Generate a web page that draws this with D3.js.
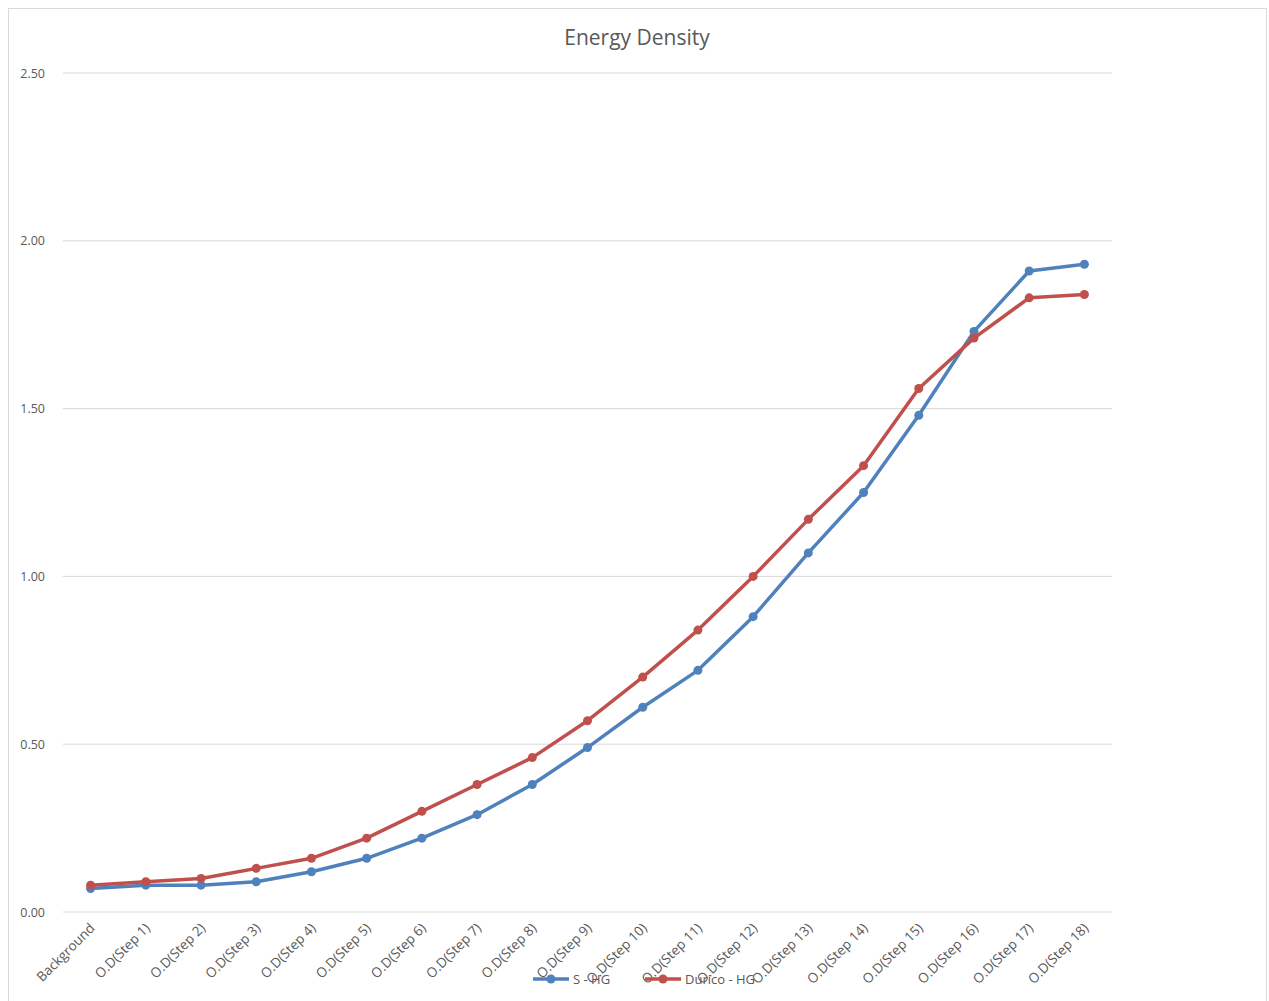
<!DOCTYPE html>
<html>
<head>
<meta charset="utf-8">
<script src="https://cdn.jsdelivr.net/npm/d3@7"></script>
<style>
  body { margin: 0; background: #fff; }
  text { font-family: "Open Sans", "Noto Sans", sans-serif; fill: #595959; }
</style>
</head>
<body>
<div class="chart"></div>
<script>
const categories = ["Background", "O.D(Step 1)", "O.D(Step 2)", "O.D(Step 3)", "O.D(Step 4)",
    "O.D(Step 5)", "O.D(Step 6)", "O.D(Step 7)", "O.D(Step 8)", "O.D(Step 9)", "O.D(Step 10)",
    "O.D(Step 11)", "O.D(Step 12)", "O.D(Step 13)", "O.D(Step 14)", "O.D(Step 15)",
    "O.D(Step 16)", "O.D(Step 17)", "O.D(Step 18)"];
const sHG = [0.07, 0.08, 0.08, 0.09, 0.12, 0.16, 0.22, 0.29, 0.38, 0.49, 0.61,
    0.72, 0.88, 1.07, 1.25, 1.48, 1.73, 1.91, 1.93];
const duricoHG = [0.08, 0.09, 0.10, 0.13, 0.16, 0.22, 0.30, 0.38, 0.46, 0.57, 0.70,
    0.84, 1.00, 1.17, 1.33, 1.56, 1.71, 1.83, 1.84];
const yTicks = [0, 0.5, 1.0, 1.5, 2.0, 2.5];
const seriesNames = ["S - HG", "Durico - HG"];
const seriesColors = ["#4F81BD", "#C0504D"];

const w = 1269;
const h = 1001;
const plotLeft = 63, plotRight = 1112, plotTop = 73, plotBottom = 912;

const svg = d3.select(".chart").append("svg")
    .attr("width", w)
    .attr("height", h);

// frame
svg.append("rect")
    .attr("x", 8.5).attr("y", 8.5)
    .attr("width", 1258).attr("height", 1010)
    .attr("fill", "none")
    .attr("stroke", "#d9d9d9");

const xScale = d3.scaleBand()
    .domain(categories)
    .range([plotLeft, plotRight]);

const yScale = d3.scaleLinear()
    .domain([0, 2.5])
    .range([plotBottom, plotTop]);

// gridlines
svg.append("g")
    .selectAll("line")
    .data(yTicks)
    .enter()
    .append("line")
    .attr("x1", plotLeft).attr("x2", plotRight)
    .attr("y1", d => yScale(d)).attr("y2", d => yScale(d))
    .attr("stroke", "#d9d9d9")
    .attr("stroke-width", 1);

const yAxis = svg.append("g")
    .attr("transform", "translate(" + (plotLeft - 18) + ",0)")
    .call(d3.axisLeft(yScale).tickValues(yTicks).tickFormat(d3.format(".2f")).tickSize(0).tickPadding(0));
yAxis.select(".domain").remove();
yAxis.selectAll("text").attr("font-size", "12.5px").style("fill", "#595959");

const xAxis = svg.append("g")
    .attr("transform", "translate(0," + plotBottom + ")")
    .call(d3.axisBottom(xScale).tickSize(0).tickPadding(0));
xAxis.select(".domain").remove();
xAxis.selectAll("text")
    .attr("font-size", "13.5px")
    .style("fill", "#595959")
    .attr("text-anchor", "end")
    .attr("dy", 0)
    .attr("transform", "translate(5,17) rotate(-45)");

// title
svg.append("text")
    .attr("x", 637).attr("y", 45)
    .attr("text-anchor", "middle")
    .attr("font-size", "21px")
    .text("Energy Density");

const line = d3.line()
    .x((d, i) => xScale(categories[i]) + xScale.bandwidth() / 2)
    .y(d => yScale(d));

[sHG, duricoHG].forEach((vals, k) => {
    const g = svg.append("g");
    g.append("path")
        .datum(vals)
        .attr("d", line)
        .attr("fill", "none")
        .attr("stroke", seriesColors[k])
        .attr("stroke-width", 3.5)
        .attr("stroke-linejoin", "round");
    g.selectAll("circle")
        .data(vals)
        .enter()
        .append("circle")
        .attr("cx", (d, i) => xScale(categories[i]) + xScale.bandwidth() / 2)
        .attr("cy", d => yScale(d))
        .attr("r", 4.5)
        .attr("fill", seriesColors[k]);
});

// legend
const legendX = [533, 645];
seriesNames.forEach((name, k) => {
    const lg = svg.append("g").attr("transform", "translate(" + legendX[k] + ",979)");
    lg.append("line")
        .attr("x1", 0).attr("x2", 36)
        .attr("stroke", seriesColors[k])
        .attr("stroke-width", 3.5);
    lg.append("circle")
        .attr("cx", 18).attr("r", 4.5)
        .attr("fill", seriesColors[k]);
    lg.append("text")
        .attr("x", 40).attr("y", 5)
        .attr("font-size", "13px")
        .text(name);
});
</script>
</body>
</html>
